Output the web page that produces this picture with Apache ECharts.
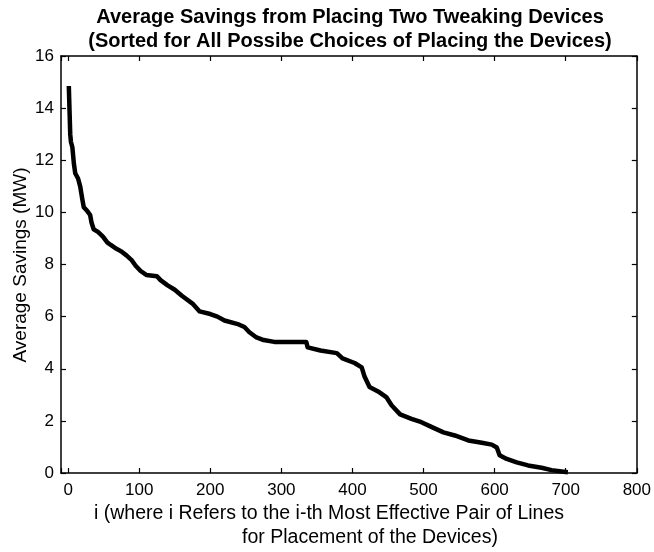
<!DOCTYPE html>
<html>
<head>
<meta charset="utf-8">
<script src="https://cdn.jsdelivr.net/npm/echarts@6/dist/echarts.min.js"></script>
<style>
html,body{margin:0;padding:0;background:#fff;}
#chart{width:654px;height:552px;}
</style>
</head>
<body>
<div id="chart"></div>
<script>
const titleLines = ['Average Savings from Placing Two Tweaking Devices', '(Sorted for All Possibe Choices of Placing the Devices)'];
const xNameLines = ['i (where i Refers to the i-th Most Effective Pair of Lines', 'for Placement of the Devices)'];
const yName = 'Average Savings (MW)';
const xTicks = [0, 100, 200, 300, 400, 500, 600, 700, 800];
const yTicks = [0, 2, 4, 6, 8, 10, 12, 14, 16];
const rankI = [1,2,3,4,6,8,10,14,17,20,22,27,31,33,36,42,49,55,60,68,75,82,89,95,102,110,125,130,140,150,160,175,185,200,210,220,240,248,255,265,275,290,335,337,355,378,386,403,413,417,424,436,448,455,467,483,497,511,528,544,563,582,596,603,607,617,631,647,666,680,694,703];
const savings = [14.85,13.9,13.0,12.7,12.5,11.9,11.5,11.3,11.0,10.5,10.2,10.05,9.9,9.6,9.35,9.25,9.07,8.85,8.75,8.6,8.5,8.35,8.18,7.95,7.75,7.6,7.55,7.4,7.2,7.03,6.8,6.5,6.2,6.1,6.0,5.85,5.7,5.6,5.4,5.2,5.1,5.03,5.03,4.82,4.7,4.6,4.4,4.22,4.05,3.7,3.3,3.13,2.9,2.6,2.25,2.08,1.95,1.77,1.56,1.44,1.25,1.16,1.09,0.98,0.68,0.54,0.41,0.29,0.2,0.11,0.06,0.03];

const FONT = '"Liberation Sans", Arial, Helvetica, sans-serif';
const chart = echarts.init(document.getElementById('chart'), null, {renderer: 'canvas'});
const points = rankI.map((v, k) => [v, savings[k]]);
const xMin = -10, xMax = xTicks[xTicks.length - 1];
const yMin = yTicks[0], yMax = yTicks[yTicks.length - 1];
const axisLineStyle = {color: '#000', width: 1.5};
const tickStyle = {color: '#000', width: 1.2};
const xLabelFmt = v => (xTicks.indexOf(v) >= 0 ? String(v) : '');

const option = {
  backgroundColor: '#fff',
  animation: false,
  title: {
    text: titleLines.join('\n'),
    left: 350, top: 5, padding: 0, textAlign: 'center',
    textStyle: {fontFamily: FONT, fontSize: 20, fontWeight: 'bold', color: '#000', lineHeight: 24}
  },
  grid: {left: 61, right: 17, top: 56, bottom: 79, containLabel: false},
  xAxis: [{
    type: 'value', min: xMin, max: xMax, splitNumber: 8, position: 'bottom',
    axisLine: {show: true, onZero: false, lineStyle: axisLineStyle},
    axisTick: {show: true, inside: true, length: 5, lineStyle: tickStyle},
    axisLabel: {show: true, formatter: xLabelFmt, margin: 9, color: '#000', fontFamily: FONT, fontSize: 17},
    splitLine: {show: false}
  }, {
    type: 'value', min: xMin, max: xMax, splitNumber: 8, position: 'top',
    axisLine: {show: true, onZero: false, lineStyle: axisLineStyle},
    axisTick: {show: true, inside: true, length: 5, lineStyle: tickStyle},
    axisLabel: {show: false}, splitLine: {show: false}
  }],
  yAxis: [{
    type: 'value', min: yMin, max: yMax, interval: 2, position: 'left',
    axisLine: {show: true, onZero: false, lineStyle: axisLineStyle},
    axisTick: {show: true, inside: true, length: 5, lineStyle: tickStyle},
    axisLabel: {show: true, margin: 7, color: '#000', fontFamily: FONT, fontSize: 17},
    splitLine: {show: false}
  }, {
    type: 'value', min: yMin, max: yMax, interval: 2, position: 'right',
    axisLine: {show: true, onZero: false, lineStyle: axisLineStyle},
    axisTick: {show: true, inside: true, length: 5, lineStyle: tickStyle},
    axisLabel: {show: false}, splitLine: {show: false}
  }],
  graphic: [
    {type: 'text', x: 329, y: 514, style: {text: xNameLines[0], fontFamily: FONT, fontSize: 19.5, fill: '#000', align: 'center', verticalAlign: 'middle'}},
    {type: 'text', x: 370, y: 538, style: {text: xNameLines[1], fontFamily: FONT, fontSize: 19.5, fill: '#000', align: 'center', verticalAlign: 'middle'}},
    {type: 'text', x: 21, y: 265, rotation: Math.PI / 2,
     style: {text: yName, fontFamily: FONT, fontSize: 19, fill: '#000', align: 'center', verticalAlign: 'middle'}}
  ],
  series: [{
    type: 'line', xAxisIndex: 0, yAxisIndex: 0, data: points, showSymbol: false, symbol: 'none',
    lineStyle: {color: '#000', width: 4.5, join: 'round', cap: 'butt'}, z: 5
  }]
};
chart.setOption(option);
</script>
</body>
</html>
